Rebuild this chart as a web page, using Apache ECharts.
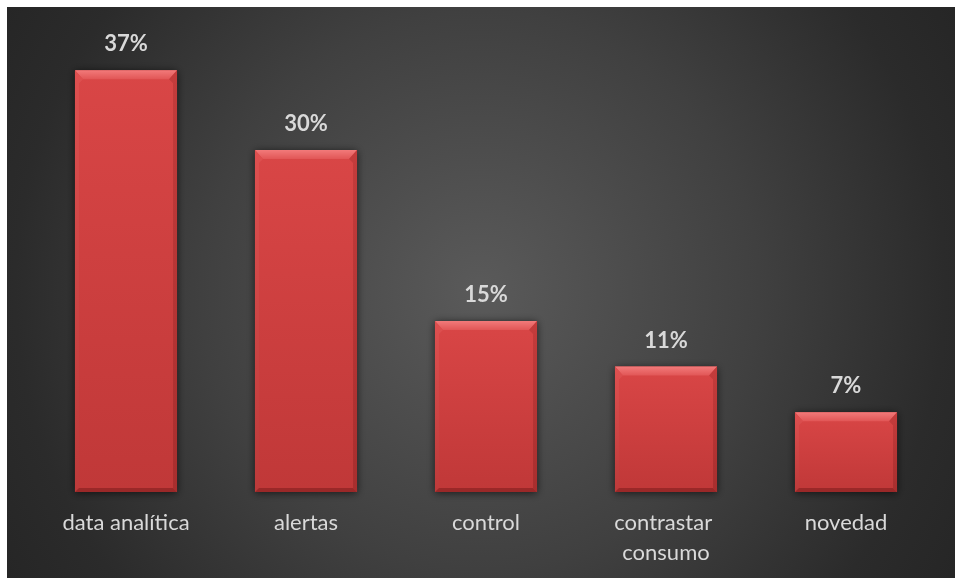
<!DOCTYPE html>
<html>
<head>
<meta charset="utf-8">
<script src="https://cdn.jsdelivr.net/npm/echarts@6/dist/echarts.min.js"></script>
<style>
  html, body { margin: 0; padding: 0; background: #ffffff; }
  #chart { width: 955px; height: 578px; }
</style>
</head>
<body>
<div id="chart"></div>
<script>
// Categories and their shares (percent)
const categories = ['data analítica', 'alertas', 'control', 'contrastar consumo', 'novedad'];
const shares = [37, 30, 15, 11, 7];

const chart = echarts.init(document.getElementById('chart'), null, { renderer: 'canvas' });

// Bevelled red bar: face, light top edge, side edges and a dark bottom edge
function renderBevelBar(params, api) {
  const idx = api.value(0);
  const val = api.value(1);
  const top = api.coord([idx, val]);
  const base = api.coord([idx, 0]);
  const band = api.size([1, 0])[0];
  const w = band * 0.567;
  const x0 = top[0] - w / 2;
  const x1 = top[0] + w / 2;
  const y0 = top[1];
  const y1 = base[1];
  const bt = 9, bs = 4, bb = 4;
  const grad = (a, b) => new echarts.graphic.LinearGradient(0, 0, 0, 1, [
    { offset: 0, color: a }, { offset: 1, color: b }
  ]);
  return {
    type: 'group',
    children: [
      {
        type: 'rect',
        shape: { x: x0, y: y0, width: w, height: y1 - y0 },
        style: {
          fill: grad('#d94646', '#c03838'),
          shadowBlur: 8,
          shadowColor: 'rgba(0,0,0,0.65)',
          shadowOffsetX: 0,
          shadowOffsetY: 1
        }
      },
      {
        type: 'polygon',
        shape: { points: [[x0, y0], [x1, y0], [x1 - bs - 4, y0 + bt], [x0 + bs + 4, y0 + bt]] },
        style: { fill: grad('#f27a7a', '#e15656') }
      },
      {
        type: 'polygon',
        shape: { points: [[x0, y0], [x0 + bs + 4, y0 + bt], [x0 + bs, y0 + bt + 4], [x0 + bs, y1 - bb], [x0, y1]] },
        style: { fill: grad('#de5050', '#bd3a3a') }
      },
      {
        type: 'polygon',
        shape: { points: [[x1, y0], [x1, y1], [x1 - bs, y1 - bb], [x1 - bs, y0 + bt + 4], [x1 - bs - 4, y0 + bt]] },
        style: { fill: grad('#c43c3c', '#a82e2e') }
      },
      {
        type: 'polygon',
        shape: { points: [[x0, y1], [x0 + bs, y1 - bb], [x1 - bs, y1 - bb], [x1, y1]] },
        style: { fill: '#9a2828' }
      },
      {
        type: 'text',
        style: {
          text: val + '%',
          x: top[0],
          y: y0 - 26,
          align: 'center',
          verticalAlign: 'middle',
          fill: '#d9d9d9',
          font: 'bold 22px Lato, "Open Sans", sans-serif'
        }
      }
    ]
  };
}

const option = {
  backgroundColor: '#ffffff',
  animation: false,
  graphic: {
    elements: [{
      type: 'rect',
      silent: true,
      z: -10,
      shape: { x: 7, y: 7, width: 948, height: 571 },
      style: {
        fill: new echarts.graphic.RadialGradient(480, 290, 620, [
          { offset: 0, color: '#5a5a5a' },
          { offset: 0.45, color: '#404040' },
          { offset: 0.75, color: '#2b2b2b' },
          { offset: 1, color: '#222222' }
        ], true)
      }
    }]
  },
  grid: { left: 36, right: 19, top: 36, bottom: 86, containLabel: false },
  xAxis: {
    type: 'category',
    data: categories,
    axisLine: { show: false },
    axisTick: { show: false },
    axisLabel: {
      color: '#d9d9d9',
      fontFamily: 'Lato, "Open Sans", sans-serif',
      fontSize: 22,
      lineHeight: 30,
      margin: 16,
      width: 160,
      overflow: 'break',
      interval: 0
    }
  },
  yAxis: {
    type: 'value',
    min: 0,
    max: 40,
    show: false,
    splitLine: { show: false }
  },
  series: [{
    type: 'custom',
    renderItem: renderBevelBar,
    encode: { x: 0, y: 1 },
    data: shares.map((v, i) => [i, v])
  }]
};

chart.setOption(option);
</script>
</body>
</html>
